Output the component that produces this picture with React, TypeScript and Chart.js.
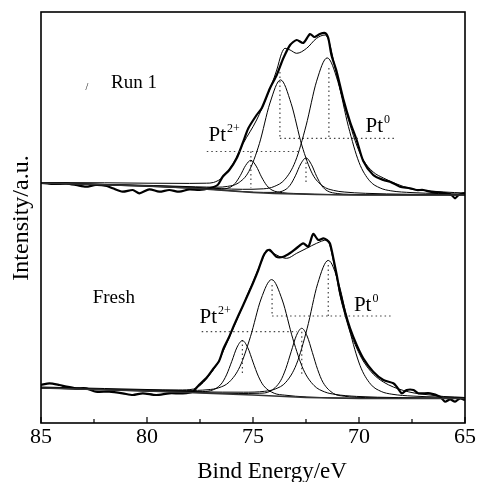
import React, { useEffect, useRef } from 'react';
import { Chart, registerables } from 'chart.js';

Chart.register(...registerables);

const FONT = '"Liberation Serif", "Times New Roman", serif';

// ---- axis ----
const xMajorTicks = [85, 80, 75, 70, 65];
const xMinorTicks = [82.5, 77.5, 72.5, 67.5];
const xTitle = 'Bind Energy/eV';
const yTitle = 'Intensity/a.u.';

// ---- Run 1 (upper spectrum) ----
const run1RawE = [85, 84.7, 84.3, 83.8, 83.35, 82.88, 82.41, 81.9, 81.62, 81.15, 80.67, 80.36, 79.89, 79.42, 78.95, 78.48, 78.0, 77.53, 77.06, 76.67, 76.43, 76.12, 75.77, 75.46, 75.22, 74.83, 74.59, 74.2, 73.88, 73.57, 73.25, 72.94, 72.63, 72.31, 72.1, 71.85, 71.6, 71.45, 71.3, 71.05, 70.74, 70.42, 70.11, 69.8, 69.33, 68.85, 68.54, 68.22, 68.07, 67.59, 67.28, 66.97, 66.65, 66.18, 65.86, 65.63, 65.47, 65.31, 65.08, 65];
const run1RawI = [240, 239.5, 239, 239.3, 238, 236.3, 238, 237, 234.7, 231.3, 233, 229.7, 233.7, 231.3, 233, 231.3, 233.7, 233, 234.7, 238, 246.3, 253, 264.7, 281.3, 294.7, 308, 314.7, 334.7, 348, 364.7, 378, 383, 380, 389, 386, 389, 390, 385, 368, 351, 324, 301, 283, 262, 248, 243, 241.3, 238, 236.3, 234.7, 233, 233, 231.3, 230.3, 229.7, 228, 224.7, 228, 229.7, 230];

const run1FitE = [85, 82, 80, 78, 77.2, 76.87, 76.4, 75.93, 75.46, 74.83, 74.35, 73.88, 73.65, 73.49, 73.25, 72.94, 72.47, 72.0, 71.6, 71.45, 71.3, 71.05, 70.74, 70.42, 70.11, 69.8, 69.33, 68.85, 68.22, 67.59, 67.12, 66, 65];
const run1FitI = [240.5, 240.2, 239.8, 239.6, 239.8, 240.5, 246.3, 259.7, 279.7, 303, 326.3, 353, 369.7, 374.7, 373, 369.7, 374.7, 384.7, 388, 384, 372, 348, 321.3, 298, 278, 263, 251, 245, 239, 234.5, 233, 231, 230];

const run1BgE = [85, 80, 78, 77, 76, 75, 74, 73, 72, 70, 65];
const run1BgI = [240, 237, 235, 233.5, 232, 230.5, 229.5, 229, 228.5, 228, 228];

const run1PeakAE = [85, 81.5, 79.5, 77.5, 75.5, 74.5, 74, 73.5, 73, 72.5, 72, 71.5, 71, 70.5, 70, 69.5, 69, 68.5, 67.5, 65];
const run1PeakAI = [240.2, 238.3, 237.1, 235.4, 233.7, 234.2, 236.5, 243.5, 261.7, 297.1, 341.8, 365.1, 341.6, 296.5, 260.7, 242.2, 235, 232.2, 230.4, 228.9];

const run1PeakBE = [85, 81.7, 79.7, 77.7, 76.7, 76.2, 75.7, 75.2, 74.7, 74.2, 73.7, 73.2, 72.7, 72.2, 71.7, 71.2, 70.7, 69.7, 67.7, 65];
const run1PeakBI = [240.2, 238.4, 237.5, 236.2, 235.8, 236.6, 239.9, 251.4, 279.3, 320, 343.1, 319.4, 278, 249.2, 236.8, 232.6, 231, 229.7, 228.75, 228.4];

const run1PeakCE = [85, 77.5, 75.5, 74.5, 74, 73.5, 73.25, 73, 72.75, 72.5, 72.25, 72, 71.75, 71.5, 71, 70.5, 69.5, 67.5, 65];
const run1PeakCI = [240, 234.4, 231.5, 230.6, 230.6, 233, 237.8, 247.2, 259, 265.1, 258.7, 246.7, 237.1, 232.2, 229.4, 228.7, 228.3, 228.1, 228.05];

const run1PeakDE = [85, 80.1, 78.1, 77.1, 76.6, 76.1, 75.85, 75.6, 75.35, 75.1, 74.85, 74.6, 74.35, 74.1, 73.6, 73.1, 72.1, 70.1, 65];
const run1PeakDI = [240, 237.2, 235.4, 234.2, 233.9, 235.5, 239.5, 247.4, 257.5, 262.7, 256.9, 246.1, 237.5, 232.9, 230.3, 229.6, 228.8, 228.1, 228];

// ---- Fresh (lower spectrum) ----
const freshRawE = [85, 84.6, 84.13, 83.8, 83.35, 82.88, 82.41, 81.78, 81.15, 80.67, 80.2, 79.57, 78.95, 78.32, 77.85, 77.55, 77.2, 76.88, 76.6, 76.4, 76.15, 75.93, 75.7, 75.46, 75.25, 75.0, 74.75, 74.51, 74.35, 74.2, 73.9, 73.57, 73.25, 72.94, 72.63, 72.39, 72.16, 71.92, 71.68, 71.52, 71.37, 71.21, 71.05, 70.9, 70.66, 70.42, 70.11, 69.8, 69.33, 68.85, 68.38, 68.22, 67.98, 67.75, 67.43, 67.2, 66.65, 66.18, 65.94, 65.7, 65.47, 65.24, 65];
const freshRawI = [38, 39.7, 38, 36.3, 34.7, 34.7, 31.3, 31.3, 29.7, 28, 29.7, 28, 29.7, 29.7, 31.3, 38, 45, 54, 62, 74, 85, 96, 107, 118, 128, 140, 153, 167, 172, 173, 166.3, 166.3, 170, 175, 179.7, 176.3, 189, 183, 184.7, 183, 179.7, 164.7, 148, 131.3, 111.3, 94.7, 78, 64.7, 51.3, 43, 39.7, 36.3, 29.7, 33, 33, 29.7, 29.7, 26.3, 21.3, 23.7, 21.3, 24.7, 23];

const freshFitE = [85, 82, 80, 78.5, 77.8, 77.5, 77.2, 76.88, 76.6, 76.4, 76.15, 75.93, 75.7, 75.46, 75.25, 75.0, 74.75, 74.51, 74.35, 74.1, 73.73, 73.41, 72.94, 72.47, 72.0, 71.52, 71.37, 71.21, 71.05, 70.9, 70.66, 70.42, 70.11, 69.8, 69.33, 68.85, 68.38, 67.9, 67.4, 66.65, 66, 65];
const freshFitI = [36, 34.5, 33.5, 33, 34, 37.5, 44, 53, 62, 72, 84, 95, 106, 118, 129, 141, 154, 166, 173, 170.5, 166.3, 164.7, 169.7, 174.7, 179.7, 183, 177, 162, 145, 128, 108, 91, 75, 62, 49, 41, 36, 32.5, 30, 28, 26.5, 25.5];

const freshBgE = [85, 80, 77.5, 75, 72.5, 70, 65];
const freshBgI = [35, 32, 30, 28, 25.5, 24.5, 24.5];

const freshPeakAE = [85, 81.45, 79.45, 77.45, 75.45, 74.45, 73.95, 73.45, 72.95, 72.45, 71.95, 71.45, 70.95, 70.45, 69.95, 69.45, 68.95, 68.45, 67.45, 65];
const freshPeakAI = [35.2, 33.3, 32.2, 31.1, 30.8, 31.7, 34, 40.75, 58.8, 94.2, 139.3, 162.6, 138.9, 93.4, 57.4, 38.8, 31.5, 28.8, 26.9, 25.5];

const freshPeakBE = [85, 82.12, 80.12, 78.12, 77.12, 76.62, 76.12, 75.62, 75.12, 74.62, 74.12, 73.62, 73.12, 72.62, 72.12, 71.62, 71.12, 70.12, 68.12, 65];
const freshPeakBI = [35.3, 33.8, 33, 32.55, 33.3, 35.2, 41, 56.3, 86.3, 124, 143.4, 123, 84.2, 53.3, 37.45, 31.1, 28.6, 26.6, 25.4, 24.9];

const freshPeakCE = [85, 77.7, 75.7, 74.7, 74.2, 73.7, 73.45, 73.2, 72.95, 72.7, 72.45, 72.2, 71.95, 71.7, 71.2, 70.7, 69.7, 67.7, 65];
const freshPeakCI = [35.05, 30.5, 29.5, 29.75, 31.7, 42.2, 54.5, 71.3, 87.6, 94.7, 87.1, 70.5, 53.4, 40.7, 29.5, 26.8, 25.4, 24.85, 24.6];

const freshPeakDE = [85, 80.5, 78.5, 77.5, 77, 76.5, 76.25, 76, 75.75, 75.5, 75.25, 75, 74.75, 74.5, 74, 73.5, 72.5, 70.5, 65];
const freshPeakDI = [35.06, 32.5, 31.4, 31.35, 32.35, 39, 48.1, 61.7, 75.9, 82.4, 75.5, 60.9, 46.85, 37.3, 29.75, 27.85, 26.1, 24.9, 24.55];

// ---- dotted guide lines (energy pairs, intensity pairs) ----
const guideLinesE = [
  [77.18, 72.78], [75.1, 75.1], [72.5, 72.5], [73.73, 68.3], [73.73, 73.73], [71.42, 71.42],
  [77.42, 72.94], [75.5, 75.5], [72.7, 72.7], [74.1, 68.46], [74.1, 74.1], [71.45, 71.45],
];
const guideLinesI = [
  [271.5, 271.5], [271.5, 235], [265, 239], [284.7, 284.7], [351, 284.7], [355, 284.7],
  [91.3, 91.3], [83, 47], [91.3, 48], [107, 107], [138, 107], [158, 107],
];

// ---- text labels: [text, energy, intensity] ----
const sampleLabels: [string, number, number][] = [
  ['Run 1', 81.7, 335],
  ['Fresh', 82.56, 120.3],
];
const ptLabels: [string, number, number][] = [
  ['2+', 77.1, 282],
  ['0', 69.69, 291],
  ['2+', 77.52, 100],
  ['0', 70.24, 112.5],
];

const pts = (e: number[], v: number[]) => e.map((x, i) => ({ x, y: v[i] }));

const textPlugin = {
  id: 'xpsText',
  afterDraw(chart: any) {
    const { ctx, chartArea: a, scales } = chart;
    const xs = scales.x;
    const ys = scales.y;
    ctx.save();
    ctx.strokeStyle = '#000';
    ctx.lineWidth = 1.6;
    ctx.strokeRect(a.left, a.top, a.right - a.left, a.bottom - a.top);
    ctx.lineWidth = 1.2;
    for (const v of xMajorTicks) {
      const px = xs.getPixelForValue(v);
      ctx.beginPath(); ctx.moveTo(px, a.bottom); ctx.lineTo(px, a.bottom - 6); ctx.stroke();
    }
    for (const v of xMinorTicks) {
      const px = xs.getPixelForValue(v);
      ctx.beginPath(); ctx.moveTo(px, a.bottom); ctx.lineTo(px, a.bottom - 4); ctx.stroke();
    }
    ctx.fillStyle = '#000';
    ctx.textBaseline = 'alphabetic';
    ctx.textAlign = 'center';
    ctx.font = `22px ${FONT}`;
    for (const v of xMajorTicks) {
      ctx.fillText(String(v), xs.getPixelForValue(v), a.bottom + 20);
    }
    ctx.font = `23px ${FONT}`;
    ctx.fillText(xTitle, (a.left + a.right) / 2 + 19, a.bottom + 55);
    ctx.save();
    ctx.translate(a.left - 13, 218);
    ctx.rotate(-Math.PI / 2);
    ctx.font = `24px ${FONT}`;
    ctx.fillText(yTitle, 0, 0);
    ctx.restore();

    ctx.textAlign = 'left';
    ctx.font = `19px ${FONT}`;
    for (const [t, e, i] of sampleLabels) {
      ctx.fillText(t, xs.getPixelForValue(e), ys.getPixelForValue(i));
    }
    ctx.font = `10px ${FONT}`;
    ctx.fillText('/', xs.getPixelForValue(82.9), ys.getPixelForValue(333));
    for (const [sup, e, i] of ptLabels) {
      const px = xs.getPixelForValue(e);
      const py = ys.getPixelForValue(i);
      ctx.font = `21px ${FONT}`;
      ctx.fillText('Pt', px, py);
      const w = ctx.measureText('Pt').width;
      ctx.font = `12px ${FONT}`;
      ctx.fillText(sup, px + w + 1, py - 9);
    }
    ctx.restore();
  },
};

export default function App() {
  const ref = useRef<HTMLCanvasElement>(null);
  useEffect(() => {
    if (!ref.current) return;
    const comp = (e: number[], v: number[]) => ({
      data: pts(e, v), borderColor: '#000', borderWidth: 1, cubicInterpolationMode: 'monotone' as const,
    });
    const bg = (e: number[], v: number[]) => ({
      data: pts(e, v), borderColor: '#333', borderWidth: 1.3, tension: 0,
    });
    const raw = (e: number[], v: number[]) => ({
      data: pts(e, v), borderColor: '#000', borderWidth: 2.2, tension: 0.25,
    });
    const guides = guideLinesE.map((e, k) => ({
      data: pts(e, guideLinesI[k]), borderColor: '#444', borderWidth: 1.2, borderDash: [1.5, 3], tension: 0,
    }));
    const datasets: any[] = [
      bg(run1BgE, run1BgI),
      bg(freshBgE, freshBgI),
      comp(run1PeakAE, run1PeakAI),
      comp(run1PeakBE, run1PeakBI),
      comp(run1PeakCE, run1PeakCI),
      comp(run1PeakDE, run1PeakDI),
      comp(freshPeakAE, freshPeakAI),
      comp(freshPeakBE, freshPeakBI),
      comp(freshPeakCE, freshPeakCI),
      comp(freshPeakDE, freshPeakDI),
      ...guides,
      comp(run1FitE, run1FitI),
      comp(freshFitE, freshFitI),
      raw(run1RawE, run1RawI),
      raw(freshRawE, freshRawI),
    ];
    const chart = new Chart(ref.current, {
      type: 'line',
      data: { datasets },
      options: {
        responsive: false,
        animation: false,
        events: [],
        layout: { padding: { left: 41, top: 12, right: 17, bottom: 59 } },
        elements: { point: { radius: 0 } },
        plugins: { legend: { display: false }, tooltip: { enabled: false } },
        scales: {
          x: { type: 'linear', reverse: true, min: 65, max: 85, display: false },
          y: { type: 'linear', min: 0, max: 411, display: false },
        },
      },
      plugins: [textPlugin],
    });
    return () => chart.destroy();
  }, []);
  return (
    <div style={{ position: 'fixed', left: 0, top: 0, width: 482, height: 482, background: '#fff' }}>
      <canvas ref={ref} width={482} height={482} style={{ display: 'block' }} />
    </div>
  );
}
